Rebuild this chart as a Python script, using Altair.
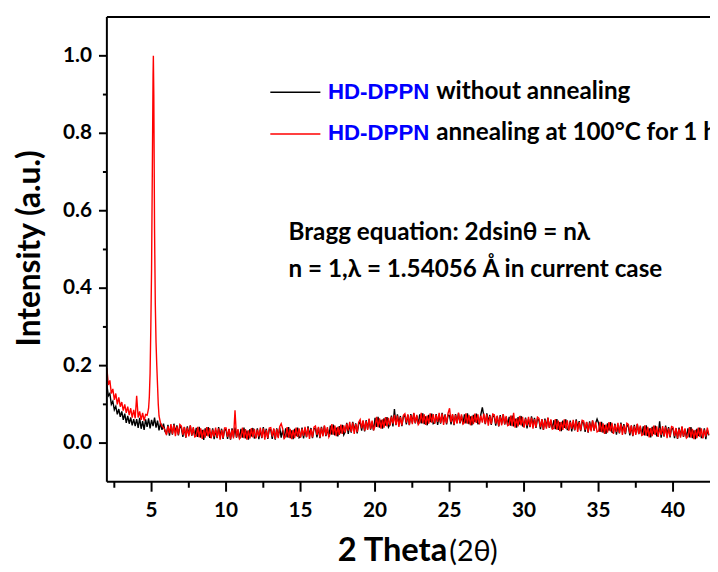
import altair as alt
import pandas as pd

# ---------------- data ----------------
# x sampling grid (2-theta, degrees), step 0.1
x_grid = [round(2.0 + 0.1 * i, 1) for i in range(405)]  # 2.0 ... 42.4

# HD-DPPN without annealing (black)
black_y = [
    .150, .122, .128, .100, .108, .086, .095, .074, .088, .068,
    .082, .060, .076, .052, .070, .050, .066, .046, .062, .044,
    .062, .039, .065, .037, .057, .034, .061, .042, .064, .038,
    .060, .044, .066, .040, .058, .033, .052, .034, .050, .030,
    .024, .047, .019, .043, .022, .050, .027, .046, .020, .044,
    .039, .016, .041, .014, .043, .021, .045, .019, .038, .017,
    .039, .016, .042, .014, .034, .008, .038, .019, .041, .015,
    .015, .038, .010, .034, .013, .041, .018, .037, .011, .035,
    .034, .011, .036, .009, .038, .016, .040, .014, .033, .012,
    .037, .014, .040, .012, .032, .009, .036, .017, .039, .013,
    .015, .038, .010, .034, .013, .041, .018, .037, .011, .035,
    .034, .011, .036, .009, .038, .016, .040, .014, .033, .012,
    .038, .015, .041, .013, .033, .010, .037, .018, .040, .014,
    .017, .040, .012, .036, .015, .043, .020, .039, .013, .037,
    .038, .015, .040, .013, .042, .020, .044, .018, .037, .016,
    .045, .022, .048, .020, .040, .017, .044, .025, .047, .021,
    .029, .052, .024, .048, .027, .055, .032, .051, .025, .049,
    .055, .032, .057, .030, .059, .037, .061, .035, .054, .033,
    .065, .042, .068, .040, .060, .037, .064, .045, .067, .041,
    .048, .071, .043, .088, .046, .074, .051, .070, .044, .068,
    .071, .048, .073, .046, .075, .053, .077, .051, .070, .049,
    .074, .051, .077, .049, .069, .046, .073, .054, .076, .050,
    .052, .075, .047, .071, .050, .078, .055, .074, .048, .072,
    .071, .048, .073, .046, .075, .053, .077, .051, .070, .049,
    .074, .051, .077, .049, .069, .046, .073, .054, .076, .050,
    .051, .074, .092, .070, .049, .077, .054, .073, .047, .071,
    .068, .045, .070, .043, .072, .050, .074, .048, .067, .046,
    .068, .045, .071, .043, .063, .040, .067, .048, .070, .044,
    .043, .066, .038, .062, .041, .069, .046, .065, .039, .063,
    .059, .036, .061, .034, .063, .041, .065, .039, .058, .037,
    .059, .036, .062, .034, .054, .031, .058, .039, .061, .035,
    .035, .058, .030, .054, .033, .061, .038, .057, .031, .055,
    .052, .029, .054, .027, .056, .034, .058, .032, .051, .062,
    .052, .029, .055, .027, .047, .024, .051, .032, .054, .028,
    .027, .050, .022, .046, .025, .053, .030, .049, .023, .047,
    .043, .020, .045, .018, .047, .025, .049, .023, .042, .021,
    .043, .020, .046, .018, .038, .015, .042, .023, .045, .019,
    .019, .056, .014, .038, .017, .045, .022, .041, .015, .039,
    .036, .013, .038, .011, .040, .018, .042, .016, .035, .014,
    .038, .015, .041, .013, .033, .010, .037, .018, .040, .014,
    .015, .038, .010, .034, .020,
]

# HD-DPPN annealing at 100 C for 1 h (red): low-angle part, 2.0 ... 4.6
red_pre_y = [
    .194, .150, .162, .128, .140, .112, .128, .100, .118, .094,
    .106, .084, .100, .078, .094, .072, .090, .066, .086, .064,
    .122, .066, .082, .060, .078, .058, .074,
]
red_pre_x = [x for x in x_grid if x <= 4.6]
# the sharp reflection near 5.1 degrees
red_peak_x = [4.7, 4.75, 4.8, 4.85, 4.9, 4.95, 5.0, 5.05, 5.1, 5.12, 5.15, 5.2,
              5.25, 5.3, 5.35, 5.4, 5.45, 5.5, 5.6, 5.7, 5.8, 5.9]
red_peak_y = [.072, .080, .090, .120, .180, .300, .450, .700, .950, 1.000, .900, .550,
              .360, .260, .200, .150, .100, .070, .052, .044, .040, .034]
# remaining noisy baseline, 6.0 ... 42.4
red_post_y = [
    .021, .044, .026, .049, .023, .047, .018, .043, .022, .048,
    .044, .021, .042, .015, .040, .017, .046, .020, .041, .016,
    .018, .042, .015, .038, .011, .035, .014, .041, .017, .039,
    .012, .035, .017, .040, .014, .038, .009, .034, .013, .039,
    .039, .016, .037, .010, .035, .012, .085, .015, .036, .011,
    .016, .040, .013, .036, .009, .033, .012, .039, .015, .037,
    .012, .035, .017, .040, .014, .038, .009, .034, .013, .039,
    .040, .017, .038, .011, .036, .013, .042, .050, .037, .012,
    .017, .041, .014, .037, .010, .034, .013, .040, .016, .038,
    .014, .037, .019, .042, .016, .040, .011, .036, .015, .041,
    .044, .021, .042, .015, .040, .017, .046, .020, .041, .016,
    .025, .049, .022, .045, .018, .042, .021, .048, .024, .046,
    .027, .050, .032, .055, .029, .053, .024, .049, .028, .054,
    .061, .038, .059, .032, .057, .034, .063, .037, .058, .033,
    .044, .068, .041, .064, .037, .061, .040, .067, .043, .065,
    .045, .068, .050, .073, .047, .071, .042, .067, .046, .072,
    .076, .053, .074, .047, .072, .049, .078, .052, .073, .048,
    .054, .078, .051, .074, .047, .071, .050, .077, .053, .075,
    .050, .073, .055, .078, .052, .076, .047, .072, .051, .077,
    .090, .054, .075, .048, .073, .050, .079, .053, .074, .049,
    .053, .077, .050, .073, .046, .070, .049, .076, .052, .074,
    .048, .071, .053, .076, .050, .074, .045, .070, .049, .075,
    .073, .050, .071, .044, .069, .046, .075, .049, .070, .045,
    .047, .071, .044, .078, .040, .064, .043, .070, .046, .068,
    .040, .063, .045, .068, .042, .066, .037, .062, .041, .067,
    .064, .041, .062, .035, .060, .037, .066, .040, .061, .036,
    .038, .062, .035, .058, .031, .055, .034, .061, .037, .059,
    .032, .055, .037, .060, .034, .058, .029, .054, .033, .059,
    .057, .034, .055, .028, .053, .030, .059, .033, .054, .029,
    .031, .055, .028, .051, .024, .048, .027, .054, .030, .052,
    .024, .047, .029, .052, .026, .050, .021, .046, .025, .051,
    .048, .025, .046, .019, .044, .021, .050, .024, .045, .020,
    .022, .046, .019, .042, .015, .039, .018, .045, .021, .043,
    .016, .039, .021, .044, .018, .042, .013, .038, .017, .043,
    .041, .018, .039, .012, .037, .014, .043, .017, .038, .013,
    .017, .041, .014, .037, .010, .034, .013, .040, .016, .038,
    .012, .035, .017, .040, .022,
]
red_post_x = [x for x in x_grid if x >= 6.0]

x_major = [5, 10, 15, 20, 25, 30, 35, 40]
x_major_labels = ["5", "10", "15", "20", "25", "30", "35", "40"]
x_minor = [2.5, 7.5, 12.5, 17.5, 22.5, 27.5, 32.5, 37.5]
y_major = [0.0, 0.2, 0.4, 0.6, 0.8, 1.0]
y_major_labels = ["0.0", "0.2", "0.4", "0.6", "0.8", "1.0"]
y_minor = [0.1, 0.3, 0.5, 0.7, 0.9]

y_title = "Intensity (a.u.)"
legend_labels = ["HD-DPPN", "HD-DPPN"]
legend_rest = ["without annealing", "annealing at 100°C for 1 h"]
bragg_lines = ["Bragg equation: 2dsinθ = nλ", "n = 1,λ = 1.54056 Å in current case"]

# ---------------- frames ----------------
black_df = pd.DataFrame({"x": x_grid, "y": black_y})
red_df = pd.DataFrame({"x": red_pre_x + red_peak_x + red_post_x,
                       "y": red_pre_y + red_peak_y + red_post_y})

W, H = 610, 470
X0, X1, Y0, Y1 = 2.0, 42.48, -0.1, 1.1
XS = alt.Scale(domain=[X0, X1], nice=False, zero=False)
YS = alt.Scale(domain=[Y0, Y1], nice=False, zero=False)
PX_X = W / (X1 - X0)   # pixels per degree
PX_Y = H / (Y1 - Y0)   # pixels per intensity unit

# axis frame and outward ticks, one rule table built from the tick lists
segs = []
segs.append((X0, X1, Y0, Y0))   # bottom
segs.append((X0, X1, Y1, Y1))   # top
segs.append((X0, X0, Y0, Y1))   # left
for v in x_major:
    segs.append((v, v, Y0, Y0 - 10 / PX_Y))
for v in x_minor:
    segs.append((v, v, Y0, Y0 - 6 / PX_Y))
for v in y_major:
    segs.append((X0, X0 - 8 / PX_X, v, v))
for v in y_minor:
    segs.append((X0, X0 - 4 / PX_X, v, v))
seg_df = pd.DataFrame(segs, columns=["x", "x2", "y", "y2"])

frame = alt.Chart(seg_df).mark_rule(color="black", strokeWidth=2).encode(
    x=alt.X("x:Q", scale=XS, axis=None), x2="x2:Q",
    y=alt.Y("y:Q", scale=YS, axis=None), y2="y2:Q",
)

black_line = alt.Chart(black_df).mark_line(color="black", strokeWidth=1.4).encode(
    x=alt.X("x:Q", scale=XS, axis=None),
    y=alt.Y("y:Q", scale=YS, axis=None),
)
red_line = alt.Chart(red_df).mark_line(color="#ff0000", strokeWidth=1.4).encode(
    x=alt.X("x:Q", scale=XS, axis=None),
    y=alt.Y("y:Q", scale=YS, axis=None),
)

x_labels = alt.Chart(pd.DataFrame({"v": x_major, "t": x_major_labels})).mark_text(
    align="center", baseline="alphabetic", font="Lato", fontWeight="bold", fontSize=21,
    color="black").encode(x=alt.X("v:Q", scale=XS, axis=None), y=alt.value(H + 36), text="t:N")
y_labels = alt.Chart(pd.DataFrame({"v": y_major, "t": y_major_labels})).mark_text(
    align="right", baseline="middle", font="Lato", fontWeight="bold", fontSize=21,
    color="black", dy=0).encode(y=alt.Y("v:Q", scale=YS, axis=None), x=alt.value(-15), text="t:N")
y_title_mark = alt.Chart(pd.DataFrame({"t": [y_title]})).mark_text(
    align="center", baseline="alphabetic", angle=270, font="Lato", fontWeight="bold",
    fontSize=32, color="black").encode(x=alt.value(-68), y=alt.value(234), text="t:N")

# legend samples
leg_df = pd.DataFrame({"x": [12.97, 12.97], "x2": [16.33, 16.33], "y": [0.906, 0.798],
                       "c": ["black", "#ff0000"]})
leg_lines = alt.Chart(leg_df).mark_rule(strokeWidth=1.6).encode(
    x=alt.X("x:Q", scale=XS, axis=None),
    x2="x2:Q",
    y=alt.Y("y:Q", scale=YS, axis=None),
    color=alt.Color("c:N", scale=None),
)


def text_layer(xs, ys, texts, font, size, color, weight="bold"):
    df = pd.DataFrame({"x": xs, "y": ys, "t": texts})
    return alt.Chart(df).mark_text(align="left", baseline="alphabetic", font=font,
                                   fontSize=size, fontWeight=weight, color=color).encode(
        x=alt.X("x:Q", scale=XS, axis=None),
        y=alt.Y("y:Q", scale=YS, axis=None),
        text="t:N",
    )


leg_blue = text_layer([16.84, 16.84], [0.888, 0.7825], legend_labels, "Liberation Sans", 22.5, "#0000ff")
leg_black = text_layer([24.1, 24.1], [0.888, 0.7825], legend_rest, "Lato", 24.5, "black")
bragg = text_layer([14.19, 14.19], [0.5234, 0.4289], bragg_lines, "Lato", 24.5, "black")
xt1 = text_layer([17.5], [-0.304], ["2 Theta"], "Lato", 33, "black")
xt2 = text_layer([24.98], [-0.304], ["(2θ)"], "Lato", 29, "black", weight="normal")

chart = alt.layer(
    black_line, red_line, frame,
    x_labels, y_labels, y_title_mark,
    leg_lines, leg_blue, leg_black, bragg, xt1, xt2,
).properties(
    width=W, height=H, autosize="none",
    padding={"left": 100, "top": 6, "right": 0, "bottom": 88},
    background="white",
).configure_view(stroke=None)

chart.save("out.html", embed_options={"renderer": "svg", "actions": False})
